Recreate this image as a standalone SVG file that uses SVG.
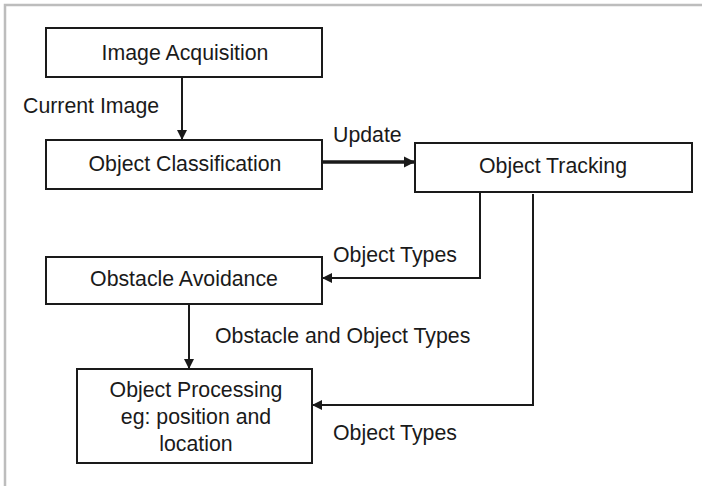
<svg xmlns="http://www.w3.org/2000/svg" width="702" height="486" viewBox="0 0 702 486">
  <style>
    .box { fill: #fff; stroke: #1a1a1a; stroke-width: 2; }
    .lbl { font-family: "Liberation Sans", Arial, sans-serif; font-size: 21.3px; fill: #1a1a1a; }
    .mid { text-anchor: middle; }
    .wire { fill: none; stroke: #1a1a1a; stroke-width: 2; }
    .thick { stroke-width: 3.5; }
  </style>
  <defs>
    <marker id="arrow" viewBox="0 0 10 10" refX="10" refY="5" markerWidth="5" markerHeight="5" markerUnits="strokeWidth" orient="auto">
      <path d="M0,0 L10,5 L0,10 z" fill="#1a1a1a"/>
    </marker>
    <marker id="arrowS" viewBox="0 0 10 10" refX="10" refY="5" markerWidth="3.2" markerHeight="3.2" markerUnits="strokeWidth" orient="auto">
      <path d="M0,0 L10,5 L0,10 z" fill="#1a1a1a"/>
    </marker>
  </defs>

  <rect width="702" height="486" fill="#fff"/>
  <!-- frame -->
  <path d="M5,486 V5 H702" fill="none" stroke="#bdbdbd" stroke-width="2.5"/>

  <g id="connectors">
    <path class="wire" d="M182,77 V140" marker-end="url(#arrow)"/>
    <path class="wire thick" d="M322,162 H415" marker-end="url(#arrowS)"/>
    <path class="wire" d="M480,192 V278 H322" marker-end="url(#arrow)"/>
    <path class="wire" d="M189,304 V369" marker-end="url(#arrow)"/>
    <path class="wire" d="M533,194 V405 H312" marker-end="url(#arrow)"/>
    <text class="lbl" x="23" y="113">Current Image</text>
    <text class="lbl" x="333" y="142">Update</text>
    <text class="lbl" x="333" y="262">Object Types</text>
    <text class="lbl" x="215" y="343">Obstacle and Object Types</text>
    <text class="lbl" x="333" y="440">Object Types</text>
  </g>

  <g id="image-acquisition">
    <rect class="box" x="46" y="28" width="276" height="49"/>
    <text class="lbl mid" x="185" y="60">Image Acquisition</text>
  </g>
  <g id="object-classification">
    <rect class="box" x="46" y="140" width="276" height="49"/>
    <text class="lbl mid" x="185" y="171">Object Classification</text>
  </g>
  <g id="object-tracking">
    <rect class="box" x="415" y="143" width="277" height="49"/>
    <text class="lbl mid" x="553" y="173">Object Tracking</text>
  </g>
  <g id="obstacle-avoidance">
    <rect class="box" x="46" y="257" width="276" height="47"/>
    <text class="lbl mid" x="184" y="286">Obstacle Avoidance</text>
  </g>
  <g id="object-processing">
    <rect class="box" x="77" y="369" width="235" height="94"/>
    <text class="lbl mid" x="196" y="397">Object Processing</text>
    <text class="lbl mid" x="196" y="424">eg: position and</text>
    <text class="lbl mid" x="196" y="451">location</text>
  </g>
</svg>
